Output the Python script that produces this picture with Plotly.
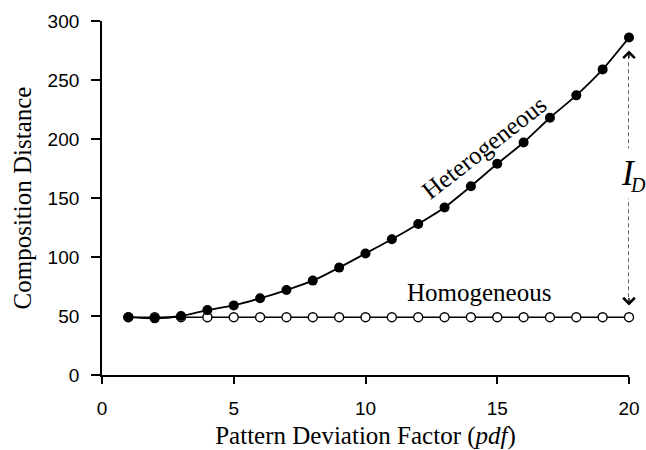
import plotly.graph_objects as go

pdf = list(range(1, 21))
heterogeneous = [49, 48, 50, 55, 59, 65, 72, 80, 91, 103, 115, 128, 142, 160, 179, 197, 218, 237, 259, 286]
homogeneous = [49] * 20

x_ticks = [0, 5, 10, 15, 20]
y_ticks = [0, 50, 100, 150, 200, 250, 300]

SERIF = "Liberation Serif, Times New Roman, serif"
SANS = "Liberation Sans, Arial, sans-serif"

fig = go.Figure()
fig.add_trace(go.Scatter(
    x=pdf, y=homogeneous, mode="lines+markers",
    line=dict(color="black", width=1.6),
    marker=dict(symbol="circle", size=9, color="white", line=dict(color="black", width=1.4)),
    cliponaxis=False, showlegend=False))
fig.add_trace(go.Scatter(
    x=pdf, y=heterogeneous, mode="lines+markers",
    line=dict(color="black", width=1.8, shape="spline", smoothing=0.6),
    marker=dict(symbol="circle", size=10, color="black"),
    cliponaxis=False, showlegend=False))

xe = pdf[-1]
top = heterogeneous[-1]
bot = homogeneous[-1]

# dashed double arrow for I_D
fig.add_shape(type="line", xref="x", yref="y", x0=xe, x1=xe, y0=bot + 11, y1=top - 12,
              line=dict(color="black", width=1.2, dash="4px,3px"))
for yy, ay in [(top - 11, 9), (bot + 10, -9)]:
    fig.add_annotation(x=xe, y=yy, xref="x", yref="y", ax=0, ay=ay, text="",
                       showarrow=True, arrowhead=4, arrowsize=1.6, arrowwidth=1.4,
                       arrowcolor="black")
mid = 171
fig.add_annotation(x=xe, y=mid, xref="x", yref="y", text="<i>I</i>",
                   showarrow=False, bgcolor="white", borderpad=5, xshift=-1,
                   font=dict(family=SERIF, size=35, color="black"))
fig.add_annotation(x=xe, y=mid, xref="x", yref="y", text="<i>D</i>",
                   showarrow=False, borderpad=0, xshift=9, yshift=-12,
                   font=dict(family=SERIF, size=20, color="black"))

fig.add_annotation(x=14.5, y=193, xref="x", yref="y", text="Heterogeneous",
                   showarrow=False, textangle=-38,
                   font=dict(family=SERIF, size=25, color="black"))
fig.add_annotation(x=14.3, y=70, xref="x", yref="y", text="Homogeneous",
                   showarrow=False,
                   font=dict(family=SERIF, size=25, color="black"))

fig.update_layout(
    width=646, height=450,
    margin=dict(l=102, r=17, t=21, b=75, autoexpand=False),
    paper_bgcolor="white", plot_bgcolor="white",
    xaxis=dict(range=[0, 20], tickvals=x_ticks, ticks="outside", ticklen=7, tickwidth=1.5,
               tickcolor="black", showline=True, linecolor="black", linewidth=1.8,
               showgrid=False, zeroline=False, ticklabelstandoff=8, automargin=False,
               tickfont=dict(family=SANS, size=19, color="black"),
               title=dict(text="Pattern Deviation Factor (<i>pdf</i>)", standoff=9,
                          font=dict(family=SERIF, size=25, color="black"))),
    yaxis=dict(range=[0, 300], tickvals=y_ticks, ticks="outside", ticklen=9, tickwidth=1.5,
               tickcolor="black", showline=True, linecolor="black", linewidth=1.8,
               showgrid=False, zeroline=False, ticklabelstandoff=8, automargin=False,
               tickfont=dict(family=SANS, size=19, color="black"),
               title=dict(text="Composition Distance", standoff=9,
                          font=dict(family=SERIF, size=25, color="black"))),
)

# remove the browser's default 8px body margin so the figure fills the window exactly
fig.write_html("out.html", config={"displayModeBar": False},
               post_script="document.body.style.margin='0px';")
